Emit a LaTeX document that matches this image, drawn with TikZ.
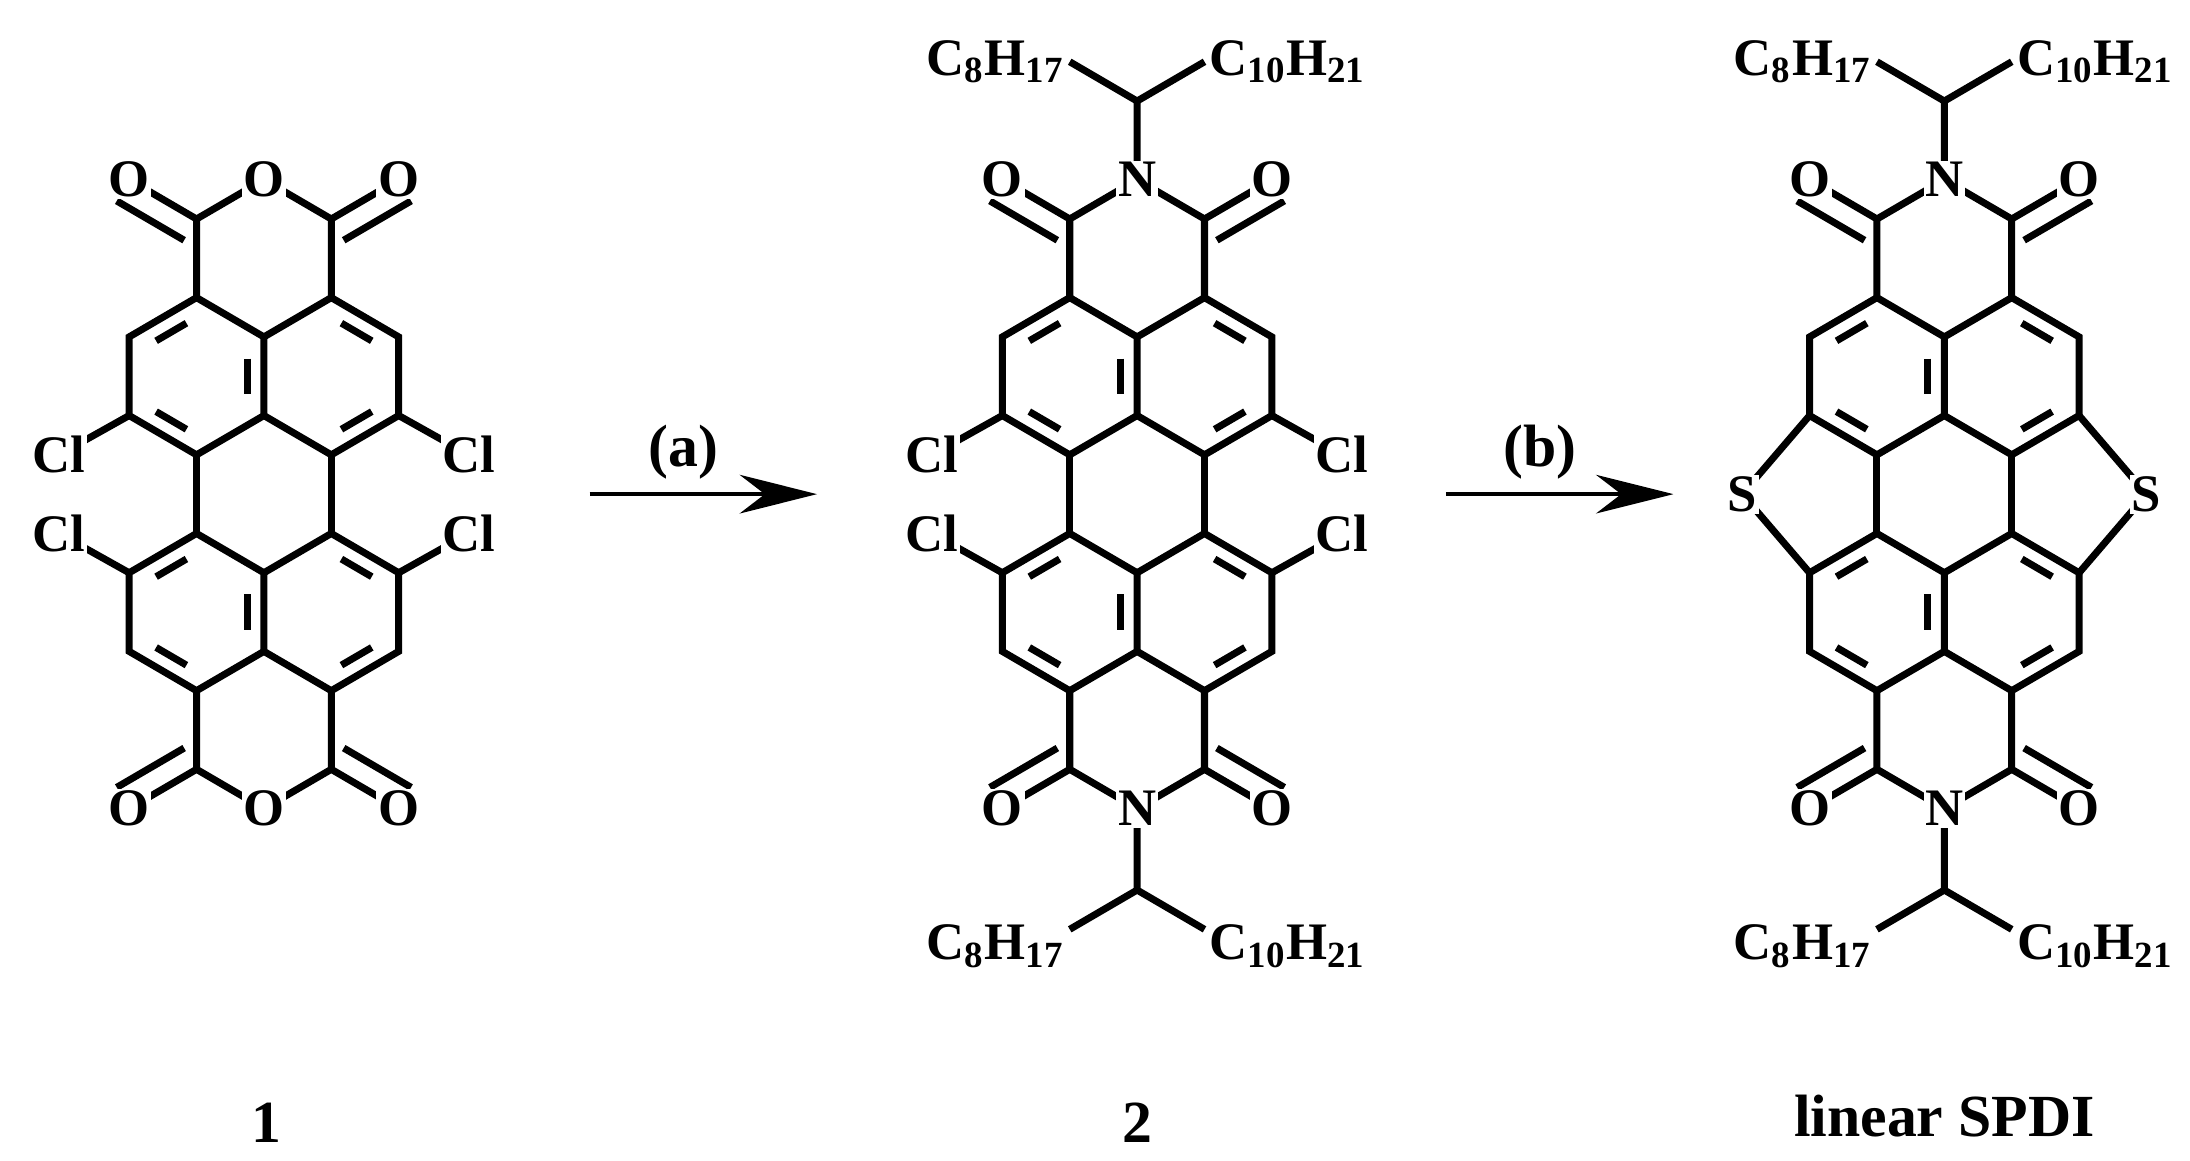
\documentclass[tikz,border=0pt]{standalone}
\usepackage{fontspec}
\setmainfont{Liberation Serif}
\usetikzlibrary{calc,arrows.meta}
\begin{document}
\begin{tikzpicture}[x=0.01404cm,y=-0.01404cm,line width=2pt,
  atom/.style={fill=white,inner sep=0.5pt,font=\fontsize{15}{17}\selectfont\bfseries},
  lbl/.style={font=\fontsize{17}{20}\selectfont\bfseries}]
\useasboundingbox (0,0) rectangle (1560,827);
\newcommand\dbl[3]{\draw ($($(#1)!.2!(#2)$)!.25!(#3)$) -- ($($(#1)!.8!(#2)$)!.25!(#3)$);}
\newcommand\co[3]{\draw ($(#1)!7pt!#3:(#2)$) -- ($(#2)!7pt!-#3:(#1)$);}
\newcommand\mol[2]{%
 \begin{scope}[shift={(#2,0)}]
 \foreach \n/\x/\y in {a1/140/212,a2/188/240,a3/188/296,a4/140/324,a5/92/296,a6/92/240,
   b1/236/212,b2/284/240,b3/284/296,b4/236/324,c1/140/380,c2/188/408,c3/188/464,c4/140/492,
   c5/92/464,c6/92/408,d1/236/380,d2/284/408,d3/284/464,d4/236/492,
   e1/140/156,e2/236/156,X/188/128,o1/92/128,o2/284/128,
   f1/140/548,f2/236/548,Y/188/576,o3/92/576,o4/284/576,
   TL/140/268,TR/236/268,BL/140/436,BR/236/436,
   h1/188/72,h2/140/44,h3/236/44,g1/188/634,g2/140/662,g3/236/662,
   l1/42/324,l2/334/324,l3/42/380,l4/334/380,s1/44/352,s2/332/352}
   \coordinate (#1\n) at (\x,\y);
 \end{scope}
 \draw (#1a1)--(#1a2)--(#1a3)--(#1a4)--(#1a5)--(#1a6)--cycle;
 \draw (#1a2)--(#1b1)--(#1b2)--(#1b3)--(#1b4)--(#1a3);
 \draw (#1c1)--(#1c2)--(#1c3)--(#1c4)--(#1c5)--(#1c6)--cycle;
 \draw (#1c2)--(#1d1)--(#1d2)--(#1d3)--(#1d4)--(#1c3);
 \draw (#1a4)--(#1c1) (#1b4)--(#1d1);
 \dbl{#1a6}{#1a1}{#1TL}\dbl{#1a2}{#1a3}{#1TL}\dbl{#1a4}{#1a5}{#1TL}
 \dbl{#1b1}{#1b2}{#1TR}\dbl{#1b3}{#1b4}{#1TR}
 \dbl{#1c5}{#1c4}{#1BL}\dbl{#1c2}{#1c3}{#1BL}\dbl{#1c1}{#1c6}{#1BL}
 \dbl{#1d4}{#1d3}{#1BR}\dbl{#1d1}{#1d2}{#1BR}
 \draw (#1a1)--(#1e1)--(#1X)--(#1e2)--(#1b1) (#1e1)--(#1o1) (#1e2)--(#1o2);
 \draw (#1c4)--(#1f1)--(#1Y)--(#1f2)--(#1d4) (#1f1)--(#1o3) (#1f2)--(#1o4);
 \co{#1e1}{#1o1}{90}\co{#1e2}{#1o2}{-90}\co{#1f1}{#1o3}{-90}\co{#1f2}{#1o4}{90}
 \node[atom] at (#1o1) {O};\node[atom] at (#1o2) {O};
 \node[atom] at (#1o3) {O};\node[atom] at (#1o4) {O};
}
\newcommand\alk[1]{%
 \draw (#1X)--(#1h1)--(#1h2) (#1h1)--(#1h3) (#1Y)--(#1g1)--(#1g2) (#1g1)--(#1g3);
 \node[atom] at (#1X) {N}; \node[atom] at (#1Y) {N};
 \node[atom,anchor=east] at (#1h2) {C\textsubscript{8}H\textsubscript{17}};
 \node[atom,anchor=west] at (#1h3) {C\textsubscript{10}H\textsubscript{21}};
 \node[atom,anchor=east] at ($(#1g2)+(0,12)$) {C\textsubscript{8}H\textsubscript{17}};
 \node[atom,anchor=west] at ($(#1g3)+(0,12)$) {C\textsubscript{10}H\textsubscript{21}};
}
\mol{m}{0}
\node[atom] at (mX) {O}; \node[atom] at (mY) {O};
\draw (ma5)--(ml1) (mb3)--(ml2) (mc6)--(ml3) (md2)--(ml4);
\node[atom] at (ml1) {Cl};\node[atom] at (ml2) {Cl};\node[atom] at (ml3) {Cl};\node[atom] at (ml4) {Cl};
\mol{n}{622}
\alk{n}
\draw (na5)--(nl1) (nb3)--(nl2) (nc6)--(nl3) (nd2)--(nl4);
\node[atom] at (nl1) {Cl};\node[atom] at (nl2) {Cl};\node[atom] at (nl3) {Cl};\node[atom] at (nl4) {Cl};
\mol{p}{1197}
\alk{p}
\draw (pa5)--(ps1)--(pc6) (pb3)--(ps2)--(pd2);
\node[atom] at (ps1) {S};\node[atom] at (ps2) {S};
\coordinate (A1) at (420,352); \coordinate (A2) at (582,352);
\coordinate (B1) at (1030,352); \coordinate (B2) at (1192,352);
\draw[line width=1.2pt,-{Stealth[length=22pt,width=11pt]}] (A1)--(A2);
\draw[line width=1.2pt,-{Stealth[length=22pt,width=11pt]}] (B1)--(B2);
\node[lbl] (la) at (487,322) {(a)};
\node[lbl] (lb) at (1097,322) {(b)};
\node[lbl] (n1) at (190,800) {1};
\node[lbl] (n2) at (810,800) {2};
\node[lbl] (n3) at (1385,795) {linear SPDI};
\end{tikzpicture}
\end{document}
